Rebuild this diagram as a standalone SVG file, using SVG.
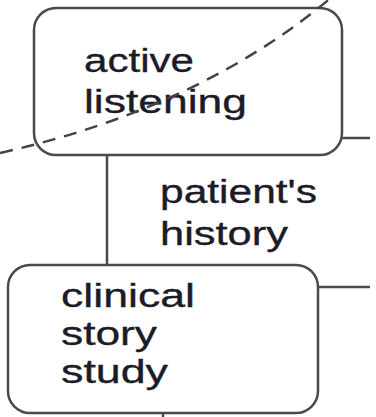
<svg xmlns="http://www.w3.org/2000/svg" width="376" height="417" viewBox="0 0 376 417">
<style>
.box{fill:#fff;stroke:#4a4a4a;stroke-width:2.5}
.ln{fill:none;stroke:#4a4a4a;stroke-width:2.5}
.dash{fill:none;stroke:#444;stroke-width:2.5;stroke-dasharray:13 9}
.t{font-family:"Liberation Sans",Arial,sans-serif;font-size:33px;fill:#1c1c28;stroke:#1c1c28;stroke-width:0.35}
</style>
<rect width="376" height="417" fill="#fff"/>
<g id="connectors">
<line class="ln" x1="107" y1="155" x2="107" y2="265"/>
<line class="ln" x1="342" y1="138" x2="370" y2="138"/>
<line class="ln" x1="318" y1="287" x2="370" y2="287"/>
<line class="ln" x1="163" y1="413" x2="163" y2="417"/>
</g>
<g id="active-listening">
<rect class="box" x="34" y="8" width="308" height="147" rx="22"/>
<text class="t" x="84" y="72" textLength="110" lengthAdjust="spacingAndGlyphs">active</text>
<text class="t" x="84" y="113" textLength="163" lengthAdjust="spacingAndGlyphs">listening</text>
</g>
<g id="patients-history">
<text class="t" x="160" y="203" textLength="157" lengthAdjust="spacingAndGlyphs">patient's</text>
<text class="t" x="160" y="245" textLength="128" lengthAdjust="spacingAndGlyphs">history</text>
</g>
<g id="clinical-story-study">
<rect class="box" x="8" y="265" width="310" height="148" rx="22"/>
<text class="t" x="61" y="307" textLength="134" lengthAdjust="spacingAndGlyphs">clinical</text>
<text class="t" x="61" y="345" textLength="96" lengthAdjust="spacingAndGlyphs">story</text>
<text class="t" x="61" y="383" textLength="107" lengthAdjust="spacingAndGlyphs">study</text>
</g>
<path class="dash" d="M0,153 Q200,108 332,-3"/>
</svg>
